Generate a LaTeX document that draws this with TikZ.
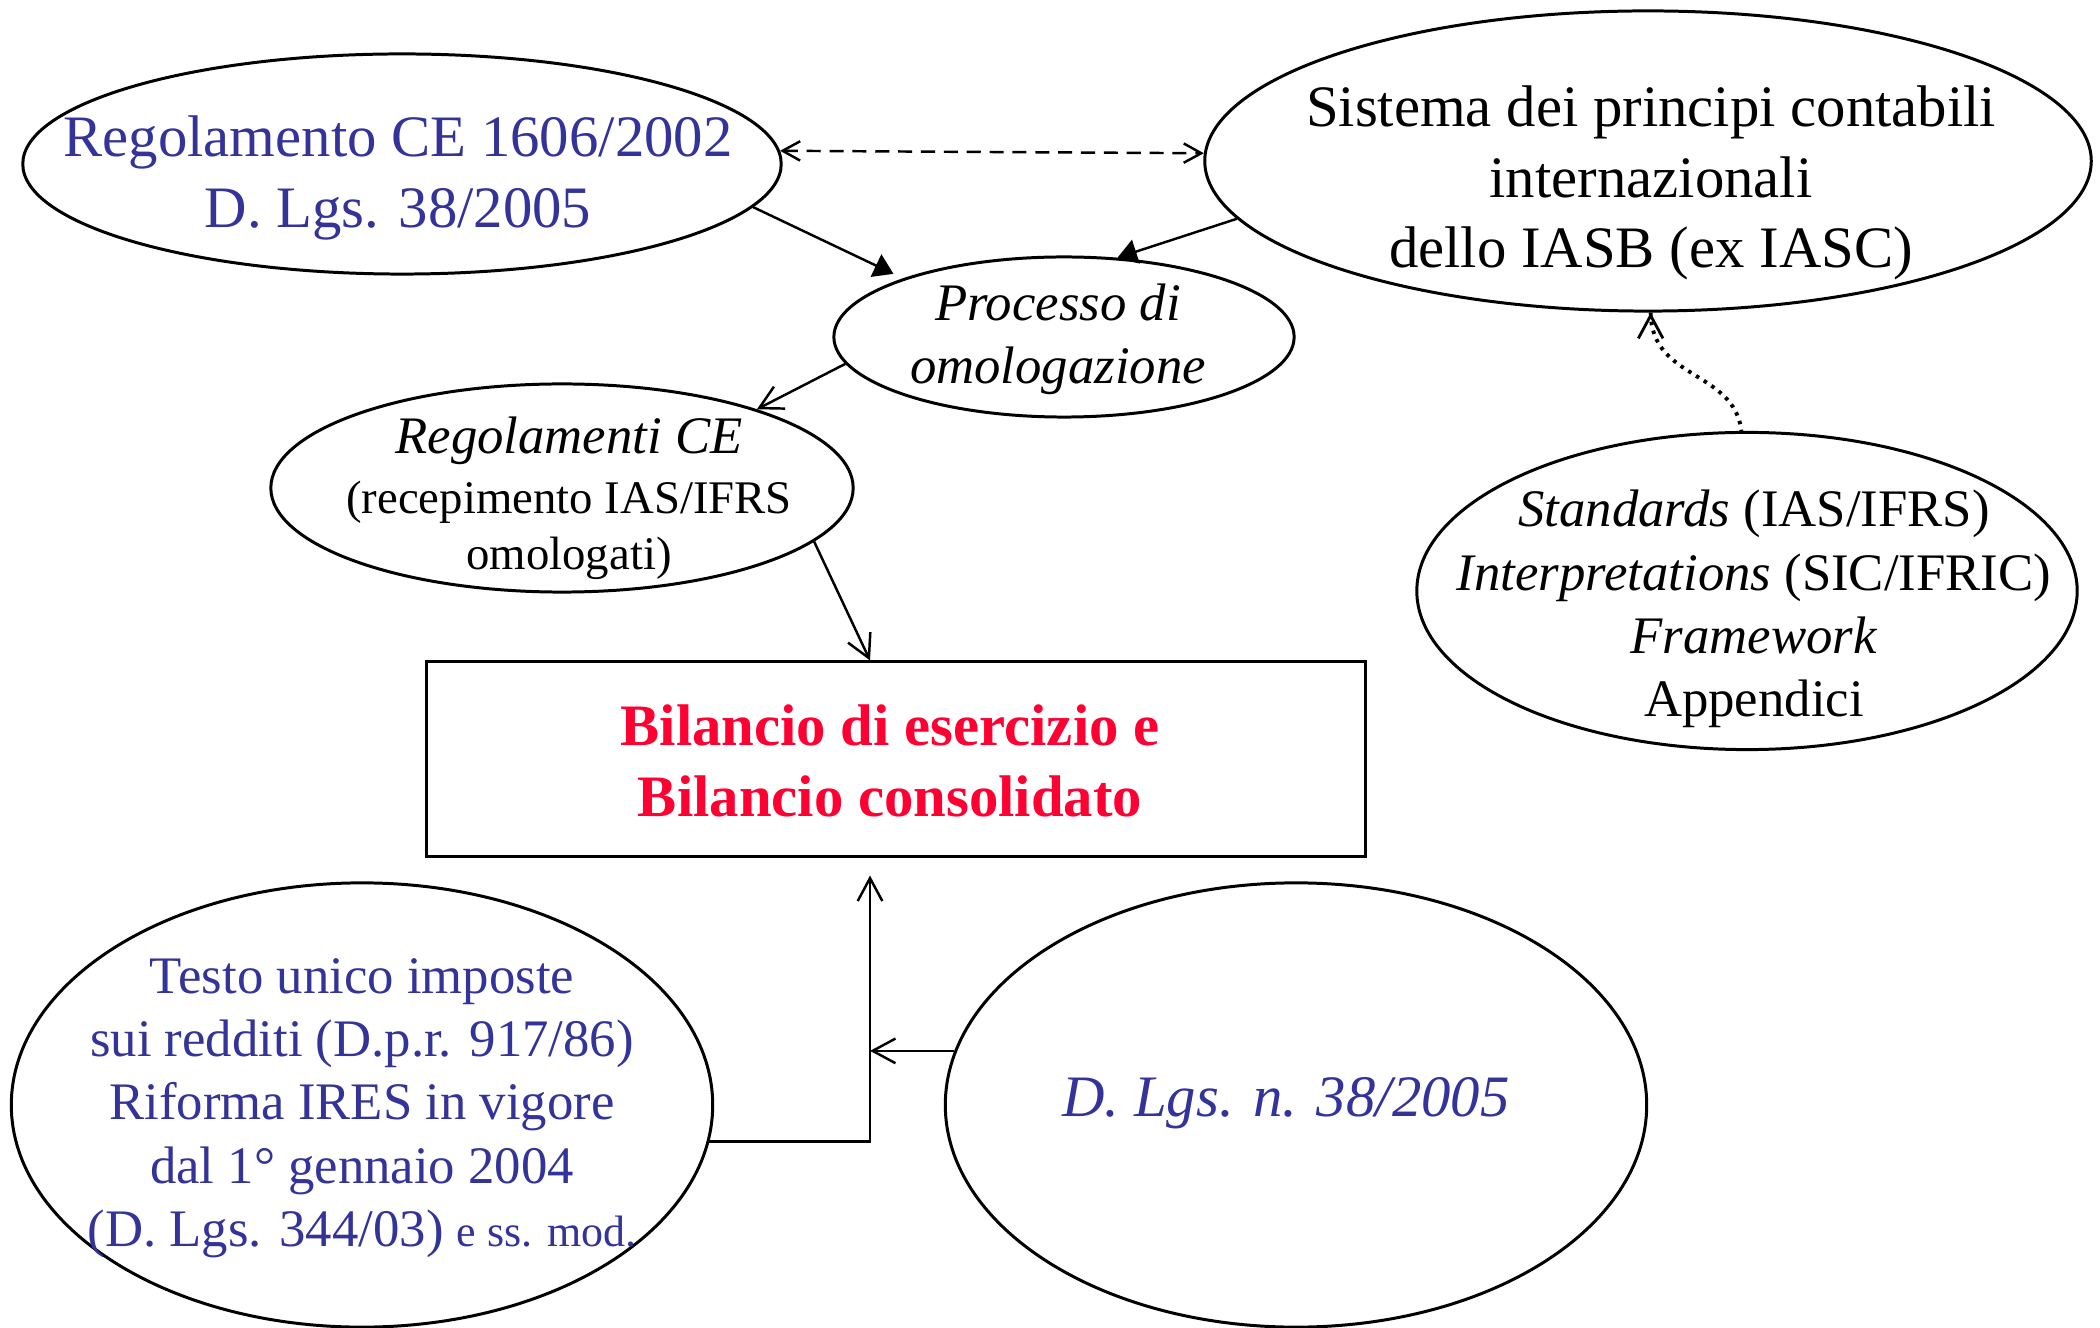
\documentclass[tikz,border=0pt]{standalone}
\usepackage{fontspec}
\setmainfont{Liberation Serif}
\usetikzlibrary{shapes.geometric,arrows.meta,calc}
\definecolor{navy}{RGB}{51,51,153}
\definecolor{crimson}{RGB}{255,0,51}
\begin{document}
\begin{tikzpicture}[x=0.01cm,y=-0.01cm,
  ell/.style={draw, ellipse, line width=0.85pt, inner sep=0pt},
  txt/.style={align=center, inner sep=0pt},
  conn/.style={line width=0.7pt},
  openarr/.style={-{Straight Barb[length=6.5pt,width=7pt]}},
  fillarr/.style={-{Triangle[length=5.5pt,width=7pt]}},
  fbig/.style={font=\fontsize{16.7}{20}\selectfont},
  fmid/.style={font=\fontsize{15}{18}\selectfont}]
\useasboundingbox (0,0) rectangle (2100,1328);

% shapes
\node[ell, minimum width=7.58cm, minimum height=2.2cm] (e1) at (402,164) {};
\node[ell, minimum width=8.86cm, minimum height=3.0cm] (e2) at (1648,161) {};
\node[ell, minimum width=4.6cm, minimum height=1.6cm] (e3) at (1064,337) {};
\node[ell, minimum width=5.82cm, minimum height=2.08cm] (e4) at (562,488) {};
\node[ell, minimum width=6.6cm, minimum height=3.17cm] (e5) at (1747,591) {};
\node[draw, line width=0.85pt, minimum width=9.39cm, minimum height=1.94cm, inner sep=0pt] (r) at (896,759) {};
\node[ell, minimum width=7.01cm, minimum height=4.44cm] (e6) at (362,1105) {};
\node[ell, minimum width=7.01cm, minimum height=4.44cm] (e7) at (1296,1105) {};

% texts
\node[txt, fbig, text=navy] (t1) at ($(e1)+(-4,14)$) {Regolamento CE 1606/2002\\D. Lgs. 38/2005};
\node[txt, fbig] (t2) at ($(e2)+(3,22)$) {Sistema dei principi contabili\\internazionali\\dello IASB (ex IASC)};
\node[txt, fmid] (t3) at ($(e3)+(-6,2)$) {\itshape Processo di\\\itshape omologazione};
\node[txt, font=\fontsize{13.3}{16}\selectfont] (t4) at ($(e4)+(7,10)$) {{\fontsize{15}{18}\selectfont\itshape Regolamenti CE}\\[1pt](recepimento IAS/IFRS\\omologati)};
\node[txt, fmid] (t5) at ($(e5)+(7,18)$) {\textit{Standards} (IAS/IFRS)\\\textit{Interpretations} (SIC/IFRIC)\\\textit{Framework}\\Appendici};
\node[txt, text=crimson, font=\fontsize{16.7}{20}\selectfont\bfseries] (t6) at ($(r)+(-6,2)$) {Bilancio di esercizio e\\Bilancio consolidato};
\node[txt, fmid, text=navy] (t7) at ($(e6)+(0,3)$) {Testo unico imposte\\sui redditi (D.p.r. 917/86)\\Riforma IRES in vigore\\dal 1° gennaio 2004\\(D. Lgs. 344/03) {\fontsize{12.5}{15}\selectfont e ss. mod.}};
\node[txt, fbig, text=navy] (t8) at ($(e7)+(-10,-2)$) {\itshape D. Lgs. n. 38/2005};

% connectors
\draw[conn, dash pattern=on 4pt off 2.5pt, {Straight Barb[length=5pt,width=5.5pt]}-{Straight Barb[length=5pt,width=5.5pt]}] (e1.2) -- (e2.179);
\draw[conn, fillarr, shorten >=3pt] (e1.-7) -- (e3.160);
\draw[conn, fillarr] (e2.-172) -- (e3.56);
\draw[conn, openarr] (e3.-173) -- (e4.22);
\draw[conn, openarr] (e4.-12) -- ($(r.north)+(-26,0)$);
\coordinate (jn) at ($(r.south)+(-26,18)$);
\draw[conn, openarr] (e6.-6) -| (jn);
\draw[conn, openarr] (e7.171) -- (e7.171 -| jn);
\draw[line width=1.1pt, dash pattern=on 1pt off 1.6pt] (e2.-89) .. controls (1651,380) and (1734,370) .. (e5.92);
\draw[line width=0.8pt, -{Straight Barb[length=6.5pt,width=7pt]}] ($(e2.-89)+(0,3)$) -- (e2.-89);
\end{tikzpicture}
\end{document}
